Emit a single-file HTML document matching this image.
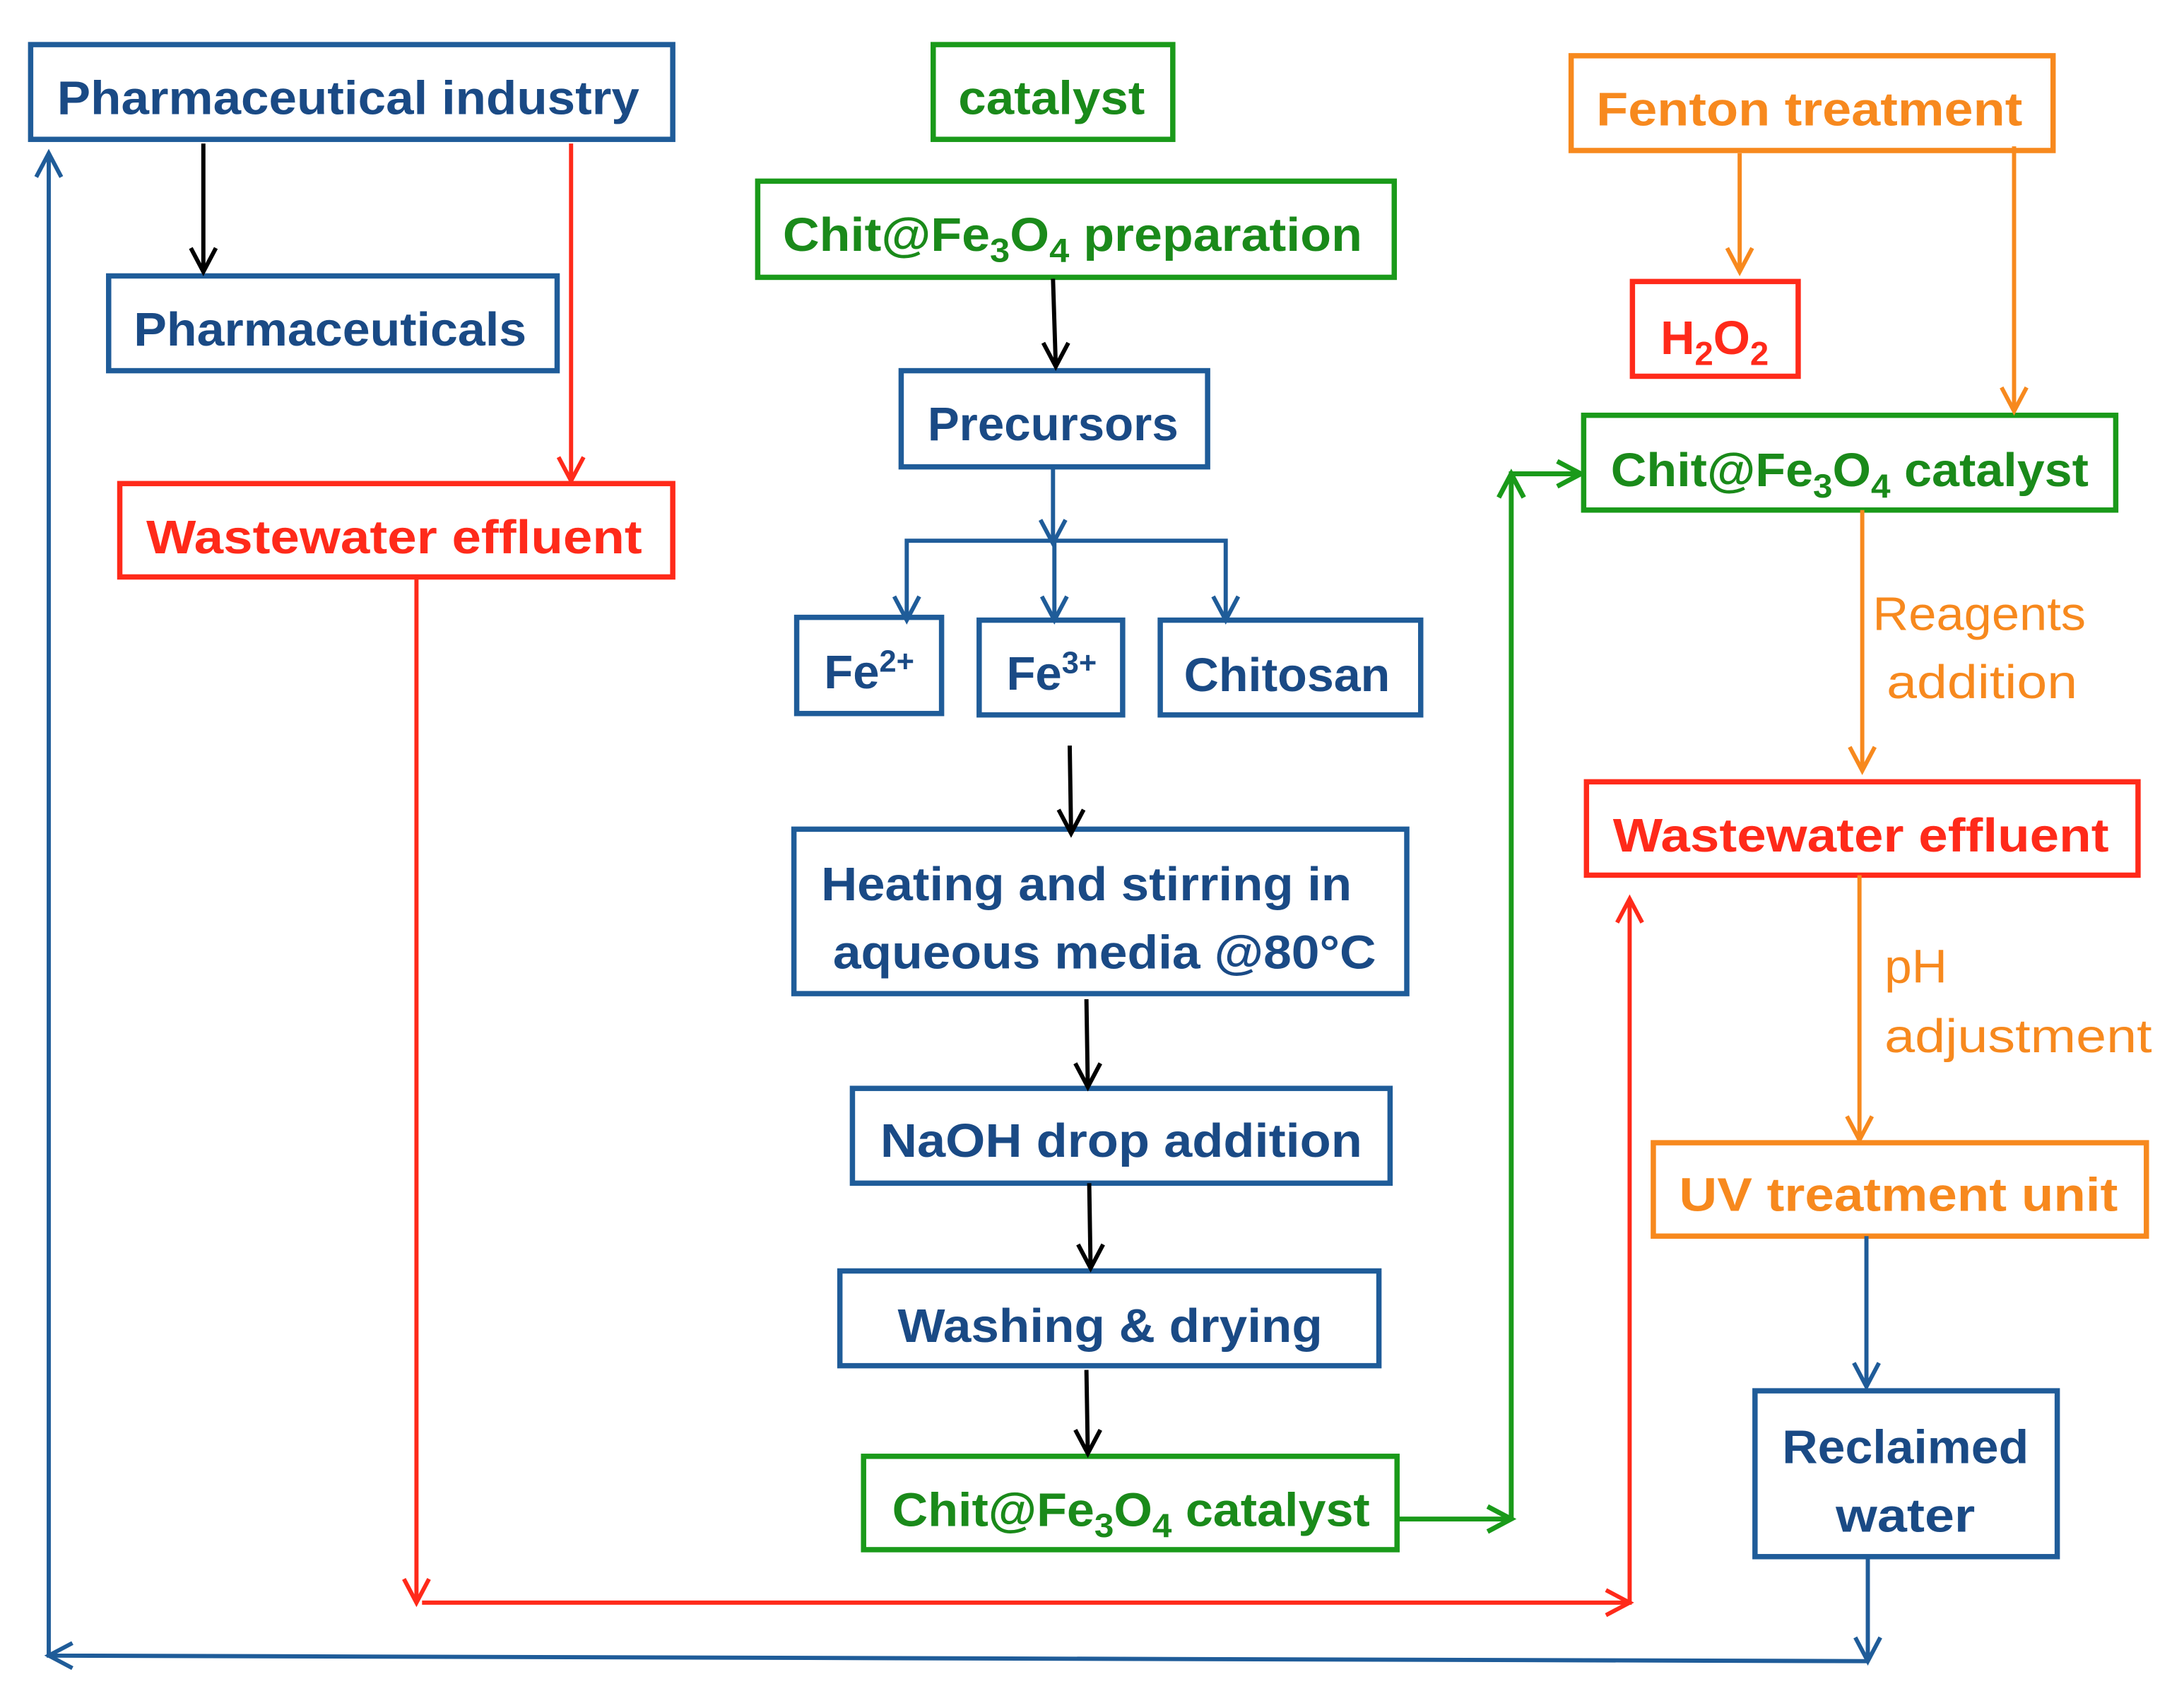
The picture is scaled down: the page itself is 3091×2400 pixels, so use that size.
<!DOCTYPE html>
<html><head><meta charset="utf-8"><style>
html,body{margin:0;padding:0;background:#fff;}
svg{display:block;}
text{font-family:"Liberation Sans",sans-serif;font-weight:bold;}
</style></head><body>
<svg width="3091" height="2400" viewBox="0 0 1568 1217" preserveAspectRatio="none" xmlns="http://www.w3.org/2000/svg">
<g fill="none" stroke-width="3.8">
<g stroke="#1f5c99">
<rect x="22" y="32" width="461" height="68"/>
<rect x="78" y="198" width="322" height="68"/>
<rect x="647" y="266" width="220" height="69"/>
<rect x="572" y="443" width="104" height="69"/>
<rect x="703" y="445" width="103" height="68"/>
<rect x="833" y="445" width="187" height="68"/>
<rect x="570" y="595" width="440" height="118"/>
<rect x="612" y="781" width="386" height="68"/>
<rect x="603" y="912" width="387" height="68"/>
<rect x="1260" y="998" width="217" height="119"/>
</g>
<g stroke="#ff2a1a">
<rect x="86" y="347" width="397" height="67"/>
<rect x="1172" y="202" width="119" height="68"/>
<rect x="1139" y="561" width="396" height="67"/>
</g>
<g stroke="#1a9a1a">
<rect x="670" y="32" width="172" height="68"/>
<rect x="544" y="130" width="457" height="69"/>
<rect x="620" y="1045" width="383" height="67"/>
<rect x="1137" y="298" width="382" height="68"/>
</g>
<g stroke="#f7891e">
<rect x="1128" y="40" width="346" height="68"/>
<rect x="1187" y="820" width="354" height="67"/>
</g>
</g>
<g fill="none" stroke-width="3">
<g stroke="#000">
<line x1="146" y1="103" x2="146" y2="195"/><polyline points="137,178 146,195 155,178"/>
<line x1="756" y1="200" x2="758" y2="263"/><polyline points="749,246 758,263 767,246"/>
<line x1="768" y1="535" x2="769" y2="598"/><polyline points="760,581 769,598 778,581"/>
<line x1="780" y1="717" x2="781" y2="780"/><polyline points="772,763 781,780 790,763"/>
<line x1="782" y1="849" x2="783" y2="910"/><polyline points="774,893 783,910 792,893"/>
<line x1="780" y1="983" x2="781" y2="1043"/><polyline points="772,1026 781,1043 790,1026"/>
</g>
<g stroke="#ff2a1a">
<line x1="410" y1="103" x2="410" y2="345"/><polyline points="401,328 410,345 419,328"/>
<polyline points="299,414 299,1150"/><polyline points="290,1133 299,1150 308,1133"/>
<polyline points="303,1150 1170,1150 1170,645"/><polyline points="1153,1141 1170,1150 1153,1159"/>
<polyline points="1161,662 1170,645 1179,662"/>
</g>
<g stroke="#1f5c99">
<line x1="756" y1="335" x2="756" y2="390"/><polyline points="747,373 756,390 765,373"/>
<polyline points="651,445 651,388 880,388 880,445"/>
<line x1="757" y1="388" x2="757" y2="445"/>
<polyline points="642,428 651,445 660,428"/><polyline points="748,428 757,445 766,428"/><polyline points="871,428 880,445 889,428"/>
<line x1="1340" y1="887" x2="1340" y2="995"/><polyline points="1331,978 1340,995 1349,978"/>
<line x1="1341" y1="1117" x2="1341" y2="1192"/><polyline points="1332,1175 1341,1192 1350,1175"/>
<polyline points="1341,1192 35,1188 35,110"/>
<polyline points="52,1179 35,1188 52,1197"/><polyline points="26,127 35,110 44,127"/>
</g>
<g stroke="#1a9a1a" stroke-width="3.5">
<polyline points="1003,1090 1085,1090"/><polyline points="1068,1081 1085,1090 1068,1099"/>
<polyline points="1085,1090 1085,340 1135,340"/>
<polyline points="1076,357 1085,340 1094,357"/><polyline points="1118,331 1135,340 1118,349"/>
</g>
<g stroke="#f7891e">
<line x1="1249" y1="110" x2="1249" y2="195"/><polyline points="1240,178 1249,195 1258,178"/>
<line x1="1446" y1="105" x2="1446" y2="295"/><polyline points="1437,278 1446,295 1455,278"/>
<line x1="1337" y1="366" x2="1337" y2="553"/><polyline points="1328,536 1337,553 1346,536"/>
<line x1="1335" y1="628" x2="1335" y2="818"/><polyline points="1326,801 1335,818 1344,801"/>
</g>
</g>
<g font-size="34" text-anchor="middle">
<g fill="#1a4a85">
<text x="250" y="82" textLength="418" lengthAdjust="spacingAndGlyphs">Pharmaceutical industry</text>
<text x="237" y="248" textLength="282" lengthAdjust="spacingAndGlyphs">Pharmaceuticals</text>
<text x="756" y="316" textLength="180" lengthAdjust="spacingAndGlyphs">Precursors</text>
<text x="624" y="494">Fe<tspan font-size="22" dy="-12">2+</tspan></text>
<text x="755" y="495">Fe<tspan font-size="22" dy="-12">3+</tspan></text>
<text x="924" y="496" textLength="148" lengthAdjust="spacingAndGlyphs">Chitosan</text>
<text x="780" y="646" textLength="381" lengthAdjust="spacingAndGlyphs">Heating and stirring in</text>
<text x="793" y="695" textLength="390" lengthAdjust="spacingAndGlyphs">aqueous media @80°C</text>
<text x="805" y="830" textLength="346" lengthAdjust="spacingAndGlyphs">NaOH drop addition</text>
<text x="797" y="963" textLength="305" lengthAdjust="spacingAndGlyphs">Washing &amp; drying</text>
<text x="1368" y="1050" textLength="177" lengthAdjust="spacingAndGlyphs">Reclaimed</text>
<text x="1368" y="1099" textLength="100" lengthAdjust="spacingAndGlyphs">water</text>
</g>
<g fill="#ff2a1a">
<text x="283" y="397" textLength="356" lengthAdjust="spacingAndGlyphs">Wastewater effluent</text>
<text x="1336" y="611" textLength="356" lengthAdjust="spacingAndGlyphs">Wastewater effluent</text>
<text x="1231" y="254">H<tspan font-size="24" dy="8">2</tspan><tspan dy="-8">O</tspan><tspan font-size="24" dy="8">2</tspan></text>
</g>
<g fill="#1a8a1a">
<text x="755" y="82" textLength="134" lengthAdjust="spacingAndGlyphs">catalyst</text>
<text x="770" y="180" textLength="416" lengthAdjust="spacingAndGlyphs">Chit@Fe<tspan font-size="24" dy="8">3</tspan><tspan dy="-8">O</tspan><tspan font-size="24" dy="8">4</tspan><tspan dy="-8"> preparation</tspan></text>
<text x="1328" y="349" textLength="343" lengthAdjust="spacingAndGlyphs">Chit@Fe<tspan font-size="24" dy="8">3</tspan><tspan dy="-8">O</tspan><tspan font-size="24" dy="8">4</tspan><tspan dy="-8"> catalyst</tspan></text>
<text x="812" y="1095" textLength="343" lengthAdjust="spacingAndGlyphs">Chit@Fe<tspan font-size="24" dy="8">3</tspan><tspan dy="-8">O</tspan><tspan font-size="24" dy="8">4</tspan><tspan dy="-8"> catalyst</tspan></text>
</g>
<g fill="#f7891e">
<text x="1299" y="90" textLength="306" lengthAdjust="spacingAndGlyphs">Fenton treatment</text>
<text x="1363" y="869" textLength="315" lengthAdjust="spacingAndGlyphs">UV treatment unit</text>
</g>
<g fill="#f7891e">
<text x="1421" y="452" textLength="153" lengthAdjust="spacingAndGlyphs" style="font-weight:normal">Reagents</text>
<text x="1423" y="501" textLength="137" lengthAdjust="spacingAndGlyphs" style="font-weight:normal">addition</text>
<text x="1353" y="705" text-anchor="start" textLength="45" lengthAdjust="spacingAndGlyphs" style="font-weight:normal">pH</text>
<text x="1353" y="755" text-anchor="start" textLength="192" lengthAdjust="spacingAndGlyphs" style="font-weight:normal">adjustment</text>
</g>
</g>
</svg>
</body></html>
